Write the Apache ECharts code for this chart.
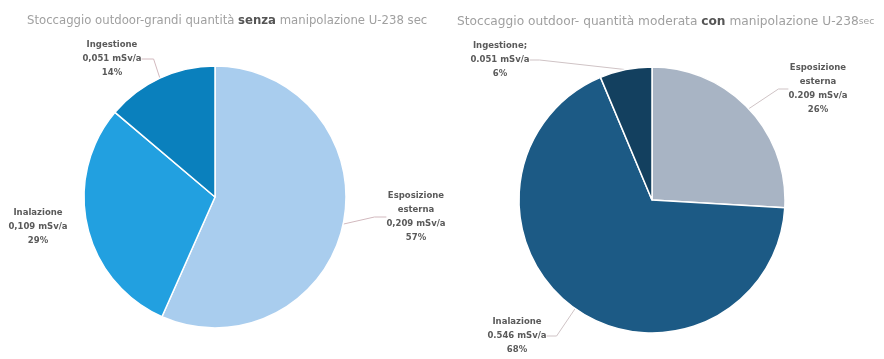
<!DOCTYPE html>
<html><head><meta charset="utf-8">
<script src="https://cdn.jsdelivr.net/npm/echarts@6/dist/echarts.min.js"></script>
<style>html,body{margin:0;padding:0;background:#fff}#c{width:884px;height:359px}</style>
</head><body><div id="c"></div>
<script>
const categories = ['Esposizione esterna', 'Inalazione', 'Ingestione'];
const leftValues = [0.209, 0.109, 0.051];
const leftPct = ['57%', '29%', '14%'];
const leftLabels = ['Esposizione\nesterna\n0,209 mSv/a\n57%', 'Inalazione\n0,109 mSv/a\n29%', 'Ingestione\n0,051 mSv/a\n14%'];
const rightValues = [0.209, 0.546, 0.051];
const rightPct = ['26%', '68%', '6%'];
const rightLabels = ['Esposizione\nesterna\n0.209 mSv/a\n26%', 'Inalazione\n0.546 mSv/a\n68%', 'Ingestione;\n0.051 mSv/a\n6%'];

const leftColors = ['#a9cdee', '#22a0e0', '#0a80bd'];
const rightColors = ['#a8b4c4', '#1c5a85', '#13405f'];

const leftLabelPos = [[416, 217], [38, 227], [112, 59]];
const rightLabelPos = [[818, 89], [517, 336], [500, 60]];

const labelStyle = {fontFamily: 'DejaVu Sans', fontWeight: 'bold', fontSize: 8.5, color: '#5a5a5a', lineHeight: 14, align: 'center', overflow: 'none'};

function mk(values, labels, colors, noLine) {
  return categories.map((c, i) => ({name: c, value: values[i], itemStyle: {color: colors[i]},
    label: {formatter: labels[i]}, labelLine: {show: noLine !== i}}));
}

function titleStyle(fs) {
  return {fontFamily: 'DejaVu Sans', fontSize: fs, fontWeight: 'normal', color: '#a0a0a0',
    rich: {b: {fontFamily: 'DejaVu Sans', fontSize: fs, fontWeight: 'bold', color: '#555'},
           s: {fontFamily: 'DejaVu Sans', fontSize: fs - 3, color: '#a0a0a0'}}};
}

const chart = echarts.init(document.getElementById('c'));
chart.setOption({
  animation: false,
  title: [
    {text: 'Stoccaggio outdoor-grandi quantità {b|senza} manipolazione U-238 sec', left: 22, top: 10, textStyle: titleStyle(11.7)},
    {text: 'Stoccaggio outdoor- quantità moderata {b|con} manipolazione U-238{s|sec}', left: 452, top: 11, textStyle: titleStyle(12.2)}
  ],
  series: [
    {type: 'pie', center: [215, 197], radius: 131, startAngle: 90, clockwise: true,
     itemStyle: {borderColor: '#fff', borderWidth: 1.5},
     label: Object.assign({position: 'outside'}, labelStyle),
     labelLine: {show: true, length: 6, length2: 12, lineStyle: {color: '#d2b9be', width: 1}},
     labelLayout: function (p) { const q = leftLabelPos[p.dataIndex]; return {x: q[0], y: q[1], align: 'center', verticalAlign: 'middle'}; },
     data: mk(leftValues, leftLabels, leftColors, 1)},
    {type: 'pie', center: [652, 200], radius: 133, startAngle: 90, clockwise: true,
     itemStyle: {borderColor: '#fff', borderWidth: 1.5},
     label: Object.assign({position: 'outside'}, labelStyle),
     labelLine: {show: true, length: 10, length2: 10, lineStyle: {color: '#cfc3c5', width: 1}},
     labelLayout: function (p) { const q = rightLabelPos[p.dataIndex]; return {x: q[0], y: q[1], align: 'center', verticalAlign: 'middle'}; },
     data: mk(rightValues, rightLabels, rightColors, -1)}
  ]
});
</script></body></html>
